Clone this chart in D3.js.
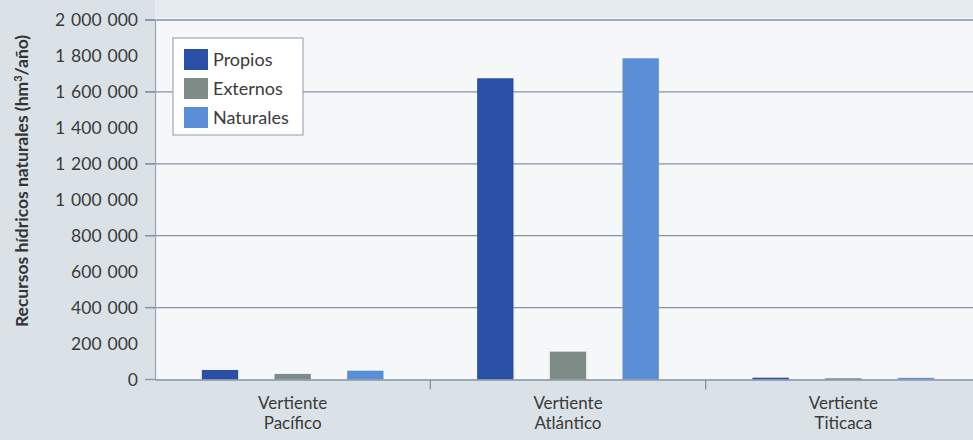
<!DOCTYPE html>
<html>
<head>
<meta charset="utf-8">
<script src="https://cdn.jsdelivr.net/npm/d3@7"></script>
<style>
html,body{margin:0;padding:0;background:#dfe6eb;}
svg{display:block;}
</style>
</head>
<body>
<svg id="chart" width="973" height="440"></svg>
<script>
// ---- data ----
const categories = ["Vertiente Pacífico", "Vertiente Atlántico", "Vertiente Titicaca"];
const categoryLines = [["Vertiente","Pacífico"],["Vertiente","Atlántico"],["Vertiente","Titicaca"]];
const seriesNames = ["Propios", "Externos", "Naturales"];
const propios   = [53000, 1676000, 10000];
const externos  = [31000, 155000, 7000];
const naturales = [49000, 1787000, 9000];
const yTicks = [0,200000,400000,600000,800000,1000000,1200000,1400000,1600000,1800000,2000000];
const gridTicks = [0,400000,800000,1200000,1600000,2000000];
const colors = ["#2a4fa6", "#7f8b87", "#5a8fd8"];

(function(){
const svg = d3.select("#chart");
const W = 973, H = 440;
const mLeft = 155, mRight = 981, mTop = 20, mBottom = 379.5;
const FONT = "Lato, 'Open Sans', sans-serif";

svg.append("rect").attr("width", W).attr("height", H).attr("fill", "#dae2e8");
svg.append("rect").attr("x", mLeft).attr("y", mTop - 14).attr("width", W - mLeft).attr("height", mBottom - mTop + 14).attr("fill", "#f5f7f9");
svg.append("rect").attr("x", mLeft).attr("y", 0).attr("width", W - mLeft).attr("height", mTop - 2).attr("fill", "#e6ebef");

const x0 = d3.scaleBand().domain(categories).range([mLeft, mRight]).paddingInner(0).paddingOuter(0);
const x1 = d3.scaleBand().domain(seriesNames).range([0, x0.bandwidth()]).paddingInner(0.5).paddingOuter(0.644);
const y = d3.scaleLinear().domain([0, 2000000]).range([mBottom, mTop]);

svg.append("g").selectAll("line").data(gridTicks.filter(d => d > 0)).join("line")
  .attr("x1", mLeft - 10).attr("x2", W).attr("y1", d => y(d)).attr("y2", d => y(d))
  .attr("stroke", "#8393a6").attr("stroke-width", 1.3);

const fmt = d => d3.format(",")(d).replace(/,/g, " ");
const yAxis = d3.axisLeft(y).tickValues(yTicks).tickFormat(fmt).tickSize(0).tickPadding(17);
const gy = svg.append("g").attr("transform", `translate(${mLeft},0)`).call(yAxis);
gy.select(".domain").attr("stroke", "#9aa5b0").attr("stroke-width", 1.2);
gy.selectAll("text").attr("font-family", FONT).attr("font-size", 17.5).attr("word-spacing", 1.5).attr("fill", "#3a3a3a");
gy.selectAll("line.tk").data(gridTicks).join("line").attr("class","tk")
  .attr("x1", -10).attr("x2", 0).attr("y1", d => y(d)).attr("y2", d => y(d))
  .attr("stroke", "#8393a6").attr("stroke-width", 1.3);

const series = [propios, externos, naturales];
const groups = svg.append("g").selectAll("g").data(categories).join("g")
  .attr("transform", d => `translate(${x0(d)},0)`);
groups.selectAll("rect").data((d, i) => seriesNames.map((s, j) => ({s, v: series[j][i], c: colors[j]}))).join("rect")
  .attr("x", d => x1(d.s)).attr("width", x1.bandwidth())
  .attr("y", d => y(d.v)).attr("height", d => y(0) - y(d.v))
  .attr("fill", d => d.c);

const xAxis = d3.axisBottom(x0).tickSize(0).tickFormat("");
const gx = svg.append("g").attr("transform", `translate(0,${mBottom})`).call(xAxis);
gx.select(".domain").attr("stroke", "#8393a6").attr("stroke-width", 1.3);
const bounds = categories.map(c => x0(c)).concat([x0(categories[2]) + x0.bandwidth()]);
gx.selectAll("line.bt").data(bounds.slice(1)).join("line").attr("class","bt")
  .attr("x1", d => d).attr("x2", d => d).attr("y1", 0).attr("y2", 10)
  .attr("stroke", "#8393a6").attr("stroke-width", 1.3);
const lab = svg.append("g").selectAll("text").data(categories).join("text")
  .attr("x", d => x0(d) + x0.bandwidth() / 2)
  .attr("y", 409)
  .attr("text-anchor", "middle")
  .attr("font-family", FONT).attr("font-size", 17).attr("fill", "#3a3a3a");
lab.each(function(d, i) {
  const t = d3.select(this);
  categoryLines[i].forEach((ln, k) => t.append("tspan").attr("x", x0(d) + x0.bandwidth() / 2).attr("dy", k === 0 ? 0 : 20).text(ln));
});

const lg = svg.append("g").attr("transform", "translate(173,38)");
lg.append("rect").attr("width", 130).attr("height", 97).attr("fill", "#fff").attr("stroke", "#8e9aa6").attr("stroke-width", 1);
seriesNames.forEach((s, i) => {
  lg.append("rect").attr("x", 11).attr("y", 11 + i * 29).attr("width", 24).attr("height", 21).attr("fill", colors[i]);
  lg.append("text").attr("x", 40).attr("y", 28 + i * 29).text(s)
    .attr("font-family", FONT).attr("font-size", 18).attr("fill", "#3a3a3a");
});

const tt = svg.append("text")
  .attr("transform", "translate(28,181) rotate(-90)")
  .attr("text-anchor", "middle")
  .attr("font-family", FONT).attr("font-weight", "bold").attr("font-size", 17.5).attr("fill", "#333");
tt.append("tspan").text("Recursos hídricos naturales (hm");
tt.append("tspan").attr("font-size", 11).attr("dy", -6.5).text("3");
tt.append("tspan").attr("dy", 6.5).text("/año)");
})();
</script>
</body>
</html>
